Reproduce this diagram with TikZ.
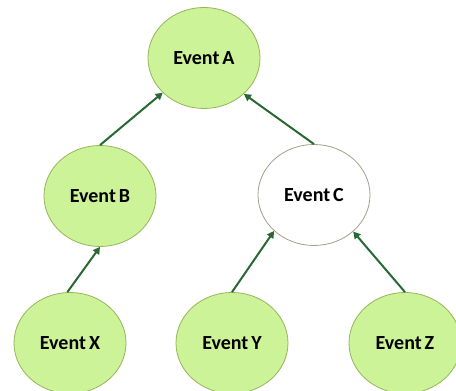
\documentclass[tikz,border=0pt]{standalone}
\usepackage{fontspec}
\setmainfont{Carlito}
\usetikzlibrary{shapes.geometric,arrows.meta}
\definecolor{evfill}{RGB}{205,243,152}
\definecolor{evborder}{RGB}{150,180,90}
\definecolor{cborder}{RGB}{160,160,140}
\definecolor{arrgreen}{RGB}{40,105,50}
\newcommand{\evfont}{\fontsize{20}{24}\selectfont\bfseries\spaceskip=0.15em plus 0pt\relax}
\tikzset{
  event/.style={ellipse, draw=evborder, line width=0.8pt, fill=evfill, inner sep=0pt,
    minimum width=112pt, minimum height=101pt,
    font=\evfont, text=black},
  whiteevent/.style={event, fill=white, draw=cborder},
  arr/.style={draw=arrgreen, line width=2pt, -{Triangle[length=7pt,width=7.5pt]}}
}
\begin{document}
\begin{tikzpicture}[x=1pt,y=1pt]
\useasboundingbox (0,0) rectangle (456,391);
\node[event] (A) at (204,333) {Event A};
\node[event] (B) at (100,195) {Event B};
\node[whiteevent] (C) at (314,196) {Event C};
\node[event] (X) at (70,48) {Event X};
\node[event] (Y) at (232,48) {Event Y};
\node[event] (Z) at (405,48) {Event Z};
\draw[arr] (B.north) -- (A.220);
\draw[arr] (C.north) -- (A.318);
\draw[arr] (X.93) -- (B.south);
\draw[arr] (Y.north) -- (C.222);
\draw[arr] (Z.north) -- (C.317);
\end{tikzpicture}
\end{document}
